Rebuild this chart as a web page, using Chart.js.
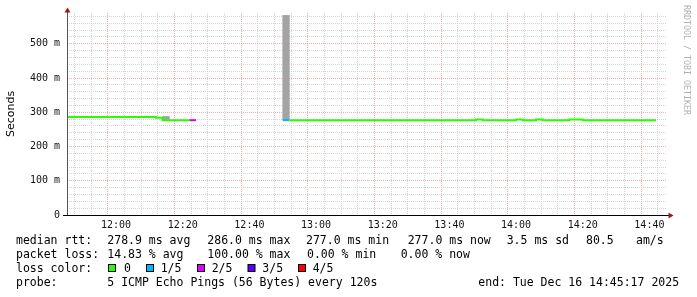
<!DOCTYPE html>
<html><head><meta charset="utf-8">
<script src="https://cdn.jsdelivr.net/npm/chart.js@4"></script>
<style>html,body{margin:0;padding:0;background:#fff;}canvas{display:block;}</style>
</head><body>
<canvas id="c" width="697" height="297" style="width:697px;height:297px"></canvas>
<script>
// ---- data (2-minute intervals, start time of each interval) ----
const intervalStarts = [
 "11:44","11:46","11:48","11:50","11:52","11:54","11:56","11:58",
 "12:00","12:02","12:04","12:06","12:08","12:10","12:12","12:14","12:16","12:18","12:20","12:22",
 "12:24","12:26","12:28","12:30","12:32","12:34","12:36","12:38","12:40","12:42","12:44","12:46","12:48",
 "12:50","12:52","12:54","12:56","12:58",
 "13:00","13:02","13:04","13:06","13:08","13:10","13:12","13:14","13:16","13:18","13:20","13:22","13:24",
 "13:26","13:28","13:30","13:32","13:34","13:36","13:38","13:40","13:42","13:44","13:46","13:48","13:50",
 "13:52","13:54","13:56","13:58",
 "14:00","14:02","14:04","14:06","14:08","14:10","14:12","14:14","14:16","14:18","14:20","14:22","14:24",
 "14:26","14:28","14:30","14:32","14:34","14:36","14:38","14:40"
];
// median rtt in ms (null = 100% loss)
const medianRtt = [
 286,286,286,286,286,286,286,286,
 286,286,286,286,286,286,284,277,277,277,277,277,
 null,null,null,null,null,null,null,null,null,null,null,null,null,
 277,277,277,277,277,
 277,277,277,277,277,277,277,277,277,277,277,277,277,
 277,277,277,277,277,277,277,277,277,277,277,279,277,
 277,277,277,277,
 279,277,277,279,277,277,277,277,279,279,277,277,277,
 277,277,277,277,277,277,277,277
];
// lost pings out of 5
const lossCount = [
 0,0,0,0,0,0,0,0,
 0,0,0,0,0,0,0,0,0,0,0,2,
 5,5,5,5,5,5,5,5,5,5,5,5,5,
 1,0,0,0,0,
 0,0,0,0,0,0,0,0,0,0,0,0,0,
 0,0,0,0,0,0,0,0,0,0,0,0,0,
 0,0,0,0,
 0,0,0,0,0,0,0,0,0,0,0,0,0,
 0,0,0,0,0,0,0,0,0
];
// visible smoke (spread of ping rtts) in ms
const smokeTimes = ["12:14","12:50"];
const smokeLow   = [278, 278];
const smokeHigh  = [288, 583];

const xTickLabels = ["12:00","12:20","12:40","13:00","13:20","13:40","14:00","14:20","14:40"];
const yTickLabels = ["0","100 m","200 m","300 m","400 m","500 m"];
const lossLabels = ["0","1/5","2/5","3/5","4/5"];
const lossColors = ["#26ff00","#00b8ff","#dd00ff","#5e00ff","#ff0000"];

const statLine1 = [["median rtt:",16],["278.9 ms avg",107.3],["286.0 ms max",207.3],["277.0 ms min",306],["277.0 ms now",407.7],["3.5 ms sd",506.7],["80.5",586],["am/s",636]];
const statLine2 = [["packet loss:",16],["14.83 % avg",107.3],["100.00 % max",207.3],["0.00 % min",307],["0.00 % now",400.7]];
const probeLine = [["probe:",16],["5 ICMP Echo Pings (56 Bytes) every 120s",107.3],["end: Tue Dec 16 14:45:17 2025",478.3]];

// ---- build ----
const toMin = s => { const p = s.split(':').map(Number); return p[0]*60 + p[1]; };
const X_MIN = 11*60 + 45 + 17/60, X_MAX = X_MIN + 180;
const linePts = [], segLoss = [];
intervalStarts.forEach((s, i) => {
  const t = toMin(s), v = medianRtt[i];
  if (v === null) { linePts.push({x: t + 1, y: null}); segLoss.push(0); return; }
  linePts.push({x: t, y: v}); segLoss.push(lossCount[i]);
  linePts.push({x: t + 2, y: v}); segLoss.push(lossCount[i]);
});
const smokeData = smokeTimes.map((s, i) => ({x: toMin(s) + 1, y: [smokeLow[i], smokeHigh[i]]}));

const MAJOR = "rgba(228,140,140,0.7)", MINOR = "rgba(205,205,205,0.85)";
const MONO = '"DejaVu Sans Mono", monospace';

const decor = {
  id: 'decor',
  afterDraw(chart) {
    const c = chart.ctx;
    c.save();
    // axes
    c.lineWidth = 1;
    c.strokeStyle = '#555';
    c.beginPath(); c.moveTo(67.5, 215); c.lineTo(67.5, 10); c.stroke();
    c.strokeStyle = '#000';
    c.beginPath(); c.moveTo(63, 215.5); c.lineTo(669, 215.5); c.stroke();
    // arrows
    c.fillStyle = '#9b1b1b';
    c.beginPath(); c.moveTo(64.5, 12.5); c.lineTo(70.5, 12.5); c.lineTo(67.5, 7.5); c.closePath(); c.fill();
    c.beginPath(); c.moveTo(668.5, 212.5); c.lineTo(668.5, 218.5); c.lineTo(673.5, 215.5); c.closePath(); c.fill();
    // y title
    c.fillStyle = '#000';
    c.font = '11px "DejaVu Sans", sans-serif';
    c.textAlign = 'center'; c.textBaseline = 'middle';
    c.save(); c.translate(11, 114); c.rotate(-Math.PI/2); c.fillText('Seconds', 0, 0); c.restore();
    // watermark
    c.fillStyle = '#b0b0b0';
    c.font = '8.3px ' + MONO;
    c.textAlign = 'left';
    c.save(); c.translate(686, 5); c.rotate(Math.PI/2); c.fillText('RRDTOOL / TOBI OETIKER', 0, 0); c.restore();
    // legend texts
    c.fillStyle = '#000';
    c.font = '11.5px ' + MONO;
    c.textAlign = 'left'; c.textBaseline = 'middle';
    statLine1.forEach(([t, x]) => c.fillText(t, x, 241));
    statLine2.forEach(([t, x]) => c.fillText(t, x, 255));
    c.fillText('loss color:', 16, 269);
    const boxX = [108, 146, 197, 247.5, 298], labX = [124, 160.7, 211.7, 262.3, 312.7];
    lossLabels.forEach((l, i) => {
      c.fillStyle = lossColors[i];
      c.fillRect(boxX[i] + 0.5, 264.5, 7, 7);
      c.strokeStyle = '#000'; c.lineWidth = 1;
      c.strokeRect(boxX[i] + 0.5, 264.5, 7, 7);
      c.fillStyle = '#000';
      c.fillText(l, labX[i], 269);
    });
    probeLine.forEach(([t, x]) => c.fillText(t, x, 283));
    c.restore();
  }
};

new Chart(document.getElementById('c'), {
  type: 'line',
  data: {
    datasets: [
      {
        type: 'line', data: linePts, order: 0, borderWidth: 2, pointRadius: 0,
        borderColor: lossColors[0], spanGaps: false, clip: 0, tension: 0,
        segment: { borderColor: ctx => lossColors[Math.min(segLoss[ctx.p0DataIndex], 4)] }
      },
      {
        type: 'bar', data: smokeData, order: 1, backgroundColor: '#a4a4a4',
        borderWidth: 0, barThickness: 6.67, clip: 0
      }
    ]
  },
  options: {
    responsive: false, animation: false, devicePixelRatio: 1, events: [],
    layout: { padding: { top: 13, right: 30, left: 0, bottom: 0 } },
    plugins: { legend: { display: false }, tooltip: { enabled: false } },
    scales: {
      x: {
        type: 'linear', min: X_MIN, max: X_MAX, offset: false,
        afterBuildTicks: s => { const t = []; for (let v = 710; v <= 885; v += 5) t.push({value: v}); s.ticks = t; },
        afterFit: s => { s.height = 82; },
        ticks: {
          autoSkip: false, maxRotation: 0, minRotation: 0, padding: 4, color: '#111',
          font: { family: MONO, size: 10 },
          callback: v => (v % 20 === 0 ? xTickLabels[(v - 720) / 20] : '')
        },
        grid: {
          drawTicks: false, lineWidth: 1,
          color: ctx => (ctx.tick && ctx.tick.value % 20 === 0 ? MAJOR : MINOR)
        },
        border: { display: false, dash: [1, 1] }
      },
      y: {
        type: 'linear', min: 0, max: 590,
        afterBuildTicks: s => { const t = []; for (let v = 0; v <= 580; v += 20) t.push({value: v}); s.ticks = t; },
        afterFit: s => { s.width = 67; },
        ticks: {
          autoSkip: false, padding: 7, color: '#111', font: { family: MONO, size: 10 },
          callback: v => (v % 100 === 0 ? yTickLabels[v / 100] : '')
        },
        grid: {
          drawTicks: false, lineWidth: 1,
          color: ctx => (!ctx.tick || ctx.tick.value === 0 ? 'rgba(0,0,0,0)' : (ctx.tick.value % 100 === 0 ? MAJOR : MINOR))
        },
        border: { display: false, dash: [1, 1] }
      }
    }
  },
  plugins: [decor]
});
</script>
</body></html>
